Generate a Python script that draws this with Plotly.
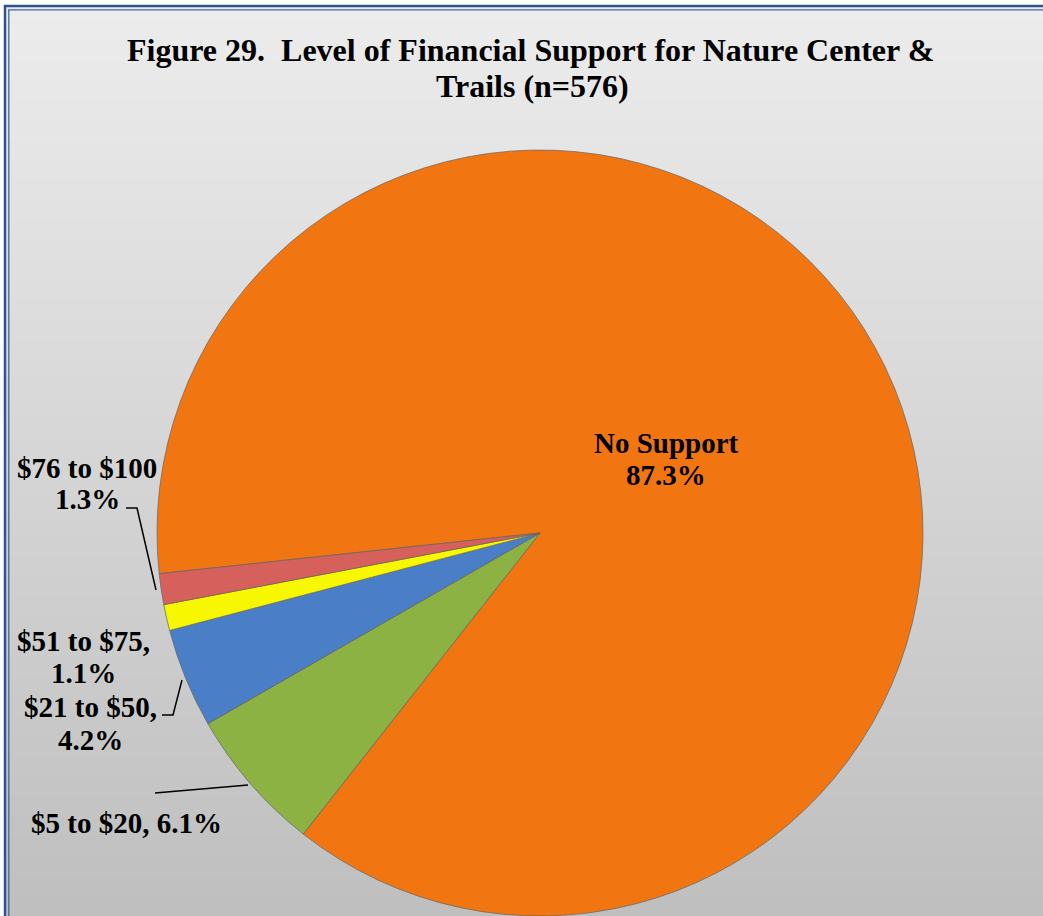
import plotly.graph_objects as go

# ---- data ----
labels = ["No Support", "$5 to $20", "$21 to $50", "$51 to $75", "$76 to $100"]
values = [87.3, 6.1, 4.2, 1.1, 1.3]
colors = ["#F17612", "#8DB244", "#4A7EC6", "#F7F700", "#D6605C"]
title_lines = ["Figure 29.  Level of Financial Support for Nature Center &", "Trails (n=576)"]

W, H = 1043, 916

def px(x):
    return x / W

def py(y):
    return 1 - y / H

# pie geometry (pixels)
cx, cy, R = 540, 533, 383

fig = go.Figure()
fig.add_trace(go.Pie(
    labels=labels,
    values=values,
    sort=False,
    direction="clockwise",
    rotation=263.9,
    marker=dict(colors=colors, line=dict(color="rgba(100,100,100,0.7)", width=1)),
    textinfo="none",
    hoverinfo="label+percent",
    showlegend=False,
    domain=dict(x=[px(cx - R), px(cx + R)], y=[py(cy + R), py(cy - R)]),
))

# ---- background gradient bands ----
shapes = []
nb = 46
for i in range(nb):
    y0 = i * H / nb
    y1 = (i + 1) * H / nb + 1
    t = (i + 0.5) / nb
    g = round(237 - (237 - 190) * t)
    shapes.append(dict(type="rect", xref="paper", yref="paper", layer="below",
                       x0=px(5), x1=1.02, y0=py(y0 if i else 6), y1=py(y1),
                       fillcolor=f"rgb({g},{g},{g})", line=dict(width=0)))
# double border
shapes.append(dict(type="rect", xref="paper", yref="paper", x0=px(5), y0=py(6), x1=1.05, y1=-0.05,
                   line=dict(color="#2F5290", width=2.5), fillcolor="rgba(0,0,0,0)"))
shapes.append(dict(type="rect", xref="paper", yref="paper", x0=px(8.8), y0=py(9.8), x1=1.05, y1=-0.05,
                   line=dict(color="#4167A8", width=1.3), fillcolor="rgba(0,0,0,0)"))

# leader lines (label connectors)
def path(pts):
    return "M " + " L ".join(f"{px(x)},{py(y)}" for x, y in pts)

for pts in [
    [(126, 508), (137, 508), (156, 590)],
    [(162, 715), (173, 715), (182, 680)],
    [(155, 793), (248, 785)],
]:
    shapes.append(dict(type="path", xref="paper", yref="paper", path=path(pts),
                       line=dict(color="black", width=1.5)))

# ---- text ----
font_title = dict(family="Liberation Serif, Times New Roman, serif", size=32, color="black")
font_lab = dict(family="Liberation Serif, Times New Roman, serif", size=29, color="black")

ann = []
def add(text, x, y, font):
    ann.append(dict(text=f"<b>{text}</b>", x=px(x), y=py(y), xref="paper", yref="paper",
                    xanchor="center", yanchor="middle", showarrow=False, font=font))

add(title_lines[0], 530, 50, font_title)
add(title_lines[1], 532, 86, font_title)

pct = [f"{v:.1f}%" for v in values]
label_pos = [
    # (line1, line2, center x, y1, y2)
    (labels[0], pct[0], 666, 443, 475),
    (labels[4], pct[4], 87, 468, 499),
    (labels[3] + ",", pct[3], 83, 641, 673),
    (labels[2] + ",", pct[2], 90, 707, 740),
]
for l1, l2, x, y1, y2 in label_pos:
    add(l1, x, y1, font_lab)
    add(l2, x, y2, font_lab)
add(f"{labels[1]}, {pct[1]}", 126, 823, font_lab)

fig.update_layout(
    width=W, height=H,
    margin=dict(l=0, r=0, t=0, b=0),
    paper_bgcolor="white",
    shapes=shapes,
    annotations=ann,
)

fig.write_html("out.html")
